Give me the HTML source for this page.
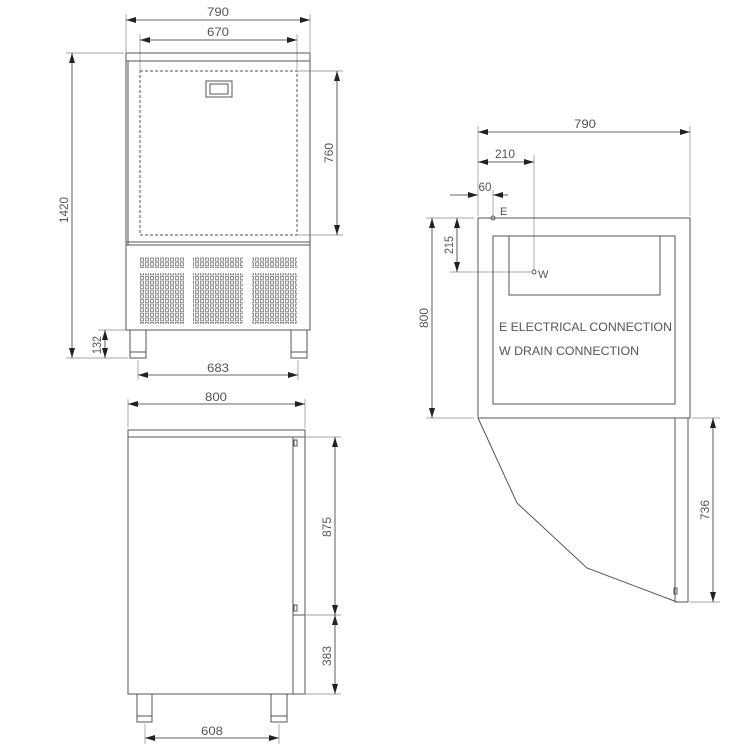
<!DOCTYPE html>
<html><head><meta charset="utf-8"><style>html,body{margin:0;padding:0;background:#fff}svg{display:block}</style></head>
<body>
<svg width="750" height="750" viewBox="0 0 750 750" xmlns="http://www.w3.org/2000/svg" font-family="'Liberation Sans', sans-serif" fill="none" stroke="#555" stroke-width="1">
<defs>
<marker id="a" viewBox="0 0 10 6" refX="10" refY="3" markerWidth="10" markerHeight="6" markerUnits="userSpaceOnUse" orient="auto-start-reverse"><path d="M0,0 L10,3 L0,6 Z" fill="#222" stroke="none"/></marker>
<pattern id="v" width="5" height="4.6" patternUnits="userSpaceOnUse"><rect x="0.5" y="0.5" width="3" height="3" stroke="#777" stroke-width="0.8" fill="none"/></pattern>
</defs>
<g stroke="#888" stroke-width="0.7">
<!-- front extension lines -->
<line x1="126" y1="14" x2="126" y2="52"/><line x1="310" y1="14" x2="310" y2="52"/>
<line x1="140" y1="34" x2="140" y2="70"/><line x1="297" y1="34" x2="297" y2="70"/>
<line x1="66" y1="53" x2="124" y2="53"/><line x1="66" y1="358" x2="128" y2="358"/>
<line x1="298" y1="71" x2="343" y2="71"/><line x1="298" y1="235" x2="343" y2="235"/>
<line x1="98" y1="330" x2="128" y2="330"/>
<line x1="138" y1="360" x2="138" y2="380"/><line x1="298" y1="360" x2="298" y2="380"/>
<!-- side -->
<line x1="128" y1="399" x2="128" y2="428"/><line x1="305" y1="399" x2="305" y2="428"/>
<line x1="306" y1="437" x2="341" y2="437"/><line x1="306" y1="615" x2="341" y2="615"/><line x1="306" y1="694" x2="341" y2="694"/>
<line x1="145" y1="724" x2="145" y2="744"/><line x1="279" y1="724" x2="279" y2="744"/>
<!-- top -->
<line x1="478" y1="126" x2="478" y2="216"/><line x1="690" y1="126" x2="690" y2="216"/>
<line x1="534" y1="155" x2="534" y2="270"/><line x1="493" y1="190" x2="493" y2="216"/>
<line x1="426" y1="218" x2="474" y2="218"/><line x1="426" y1="418" x2="474" y2="418"/>
<line x1="450" y1="272" x2="531" y2="272"/>
<line x1="692" y1="418" x2="720" y2="418"/><line x1="690" y1="602" x2="720" y2="602"/>
</g>
<g stroke="#333" stroke-width="0.8">
<line x1="126" y1="20" x2="310" y2="20" marker-start="url(#a)" marker-end="url(#a)"/>
<line x1="140" y1="40" x2="297" y2="40" marker-start="url(#a)" marker-end="url(#a)"/>
<line x1="72" y1="53" x2="72" y2="358" marker-start="url(#a)" marker-end="url(#a)"/>
<line x1="337" y1="71" x2="337" y2="235" marker-start="url(#a)" marker-end="url(#a)"/>
<line x1="105" y1="330" x2="105" y2="358" marker-start="url(#a)" marker-end="url(#a)"/>
<line x1="138" y1="375" x2="298" y2="375" marker-start="url(#a)" marker-end="url(#a)"/>
<line x1="128" y1="404" x2="305" y2="404" marker-start="url(#a)" marker-end="url(#a)"/>
<line x1="335" y1="437" x2="335" y2="615" marker-start="url(#a)" marker-end="url(#a)"/>
<line x1="335" y1="615" x2="335" y2="694" marker-start="url(#a)" marker-end="url(#a)"/>
<line x1="145" y1="738" x2="279" y2="738" marker-start="url(#a)" marker-end="url(#a)"/>
<line x1="478" y1="132" x2="690" y2="132" marker-start="url(#a)" marker-end="url(#a)"/>
<line x1="478" y1="162" x2="534" y2="162" marker-start="url(#a)" marker-end="url(#a)"/>
<line x1="450" y1="195" x2="478" y2="195" marker-end="url(#a)"/>
<line x1="508" y1="195" x2="493" y2="195" marker-end="url(#a)"/>
<line x1="432" y1="218" x2="432" y2="418" marker-start="url(#a)" marker-end="url(#a)"/>
<line x1="457" y1="218" x2="457" y2="272" marker-start="url(#a)" marker-end="url(#a)"/>
<line x1="713" y1="418" x2="713" y2="602" marker-start="url(#a)" marker-end="url(#a)"/>
</g>
<!-- front view -->
<g stroke="#555">
<rect x="126" y="53" width="184" height="277"/>
<line x1="126" y1="61" x2="310" y2="61"/>
<line x1="126" y1="245" x2="310" y2="245"/>
<line x1="128" y1="61" x2="128" y2="245"/>
<line x1="126" y1="242" x2="310" y2="242"/>
<rect x="140" y="71" width="157" height="164" stroke-dasharray="3,2"/>
<rect x="206" y="81" width="26" height="16"/>
<rect x="210" y="84" width="18" height="10"/>
<rect x="130" y="330" width="16" height="28"/><rect x="291" y="330" width="16" height="28"/>
<line x1="130" y1="352" x2="146" y2="352"/><line x1="291" y1="352" x2="307" y2="352"/>
</g>
<g stroke="none">
<rect x="139" y="257" width="45" height="11" fill="url(#v)"/>
<rect x="193" y="257" width="50" height="11" fill="url(#v)"/>
<rect x="252" y="257" width="45" height="11" fill="url(#v)"/>
<rect x="139" y="273" width="45" height="51" fill="url(#v)"/>
<rect x="193" y="273" width="50" height="51" fill="url(#v)"/>
<rect x="252" y="273" width="45" height="51" fill="url(#v)"/>
</g>
<!-- side view -->
<g stroke="#555">
<rect x="128" y="430" width="177" height="264"/>
<line x1="128" y1="437" x2="305" y2="437"/>
<line x1="293" y1="437" x2="293" y2="694"/>
<line x1="293" y1="615" x2="305" y2="615"/>
<rect x="294" y="440" width="3" height="6"/><rect x="294" y="605" width="3" height="6"/>
<rect x="137" y="694" width="15" height="28"/><rect x="271" y="694" width="16" height="28"/>
<line x1="137" y1="716" x2="152" y2="716"/><line x1="271" y1="716" x2="287" y2="716"/>
</g>
<!-- top view -->
<g stroke="#555">
<rect x="478" y="218" width="212" height="200"/>
<rect x="493" y="236" width="182" height="168"/>
<polyline points="509,236 509,295 660,295 660,236"/>
<circle cx="493" cy="218" r="2"/>
<circle cx="534" cy="272" r="2"/>
<polyline points="478,418 517,503 587,568 677,602"/>
<rect x="675" y="418" width="13" height="184"/>
<rect x="674" y="588" width="3" height="6"/>
</g>
<g fill="#555" stroke="none" font-size="12">
<text x="218" y="16" text-anchor="middle" textLength="22" lengthAdjust="spacingAndGlyphs">790</text>
<text x="218" y="36" text-anchor="middle" textLength="22" lengthAdjust="spacingAndGlyphs">670</text>
<text x="218" y="372" text-anchor="middle" textLength="22" lengthAdjust="spacingAndGlyphs">683</text>
<text x="216" y="401" text-anchor="middle" textLength="22" lengthAdjust="spacingAndGlyphs">800</text>
<text x="212" y="735" text-anchor="middle" textLength="22" lengthAdjust="spacingAndGlyphs">608</text>
<text x="585" y="128" text-anchor="middle" textLength="22" lengthAdjust="spacingAndGlyphs">790</text>
<text x="505" y="158" text-anchor="middle" textLength="20" lengthAdjust="spacingAndGlyphs">210</text>
<text x="485" y="191" text-anchor="middle" textLength="13" lengthAdjust="spacingAndGlyphs">60</text>
<text x="500" y="215" font-size="11">E</text>
<text x="538" y="278" font-size="11">W</text>
<text transform="translate(68,210) rotate(-90)" text-anchor="middle" textLength="26" lengthAdjust="spacingAndGlyphs">1420</text>
<text transform="translate(333,153) rotate(-90)" text-anchor="middle" textLength="20" lengthAdjust="spacingAndGlyphs">760</text>
<text transform="translate(101,345) rotate(-90)" text-anchor="middle" textLength="18" lengthAdjust="spacingAndGlyphs">132</text>
<text transform="translate(331,527) rotate(-90)" text-anchor="middle" textLength="20" lengthAdjust="spacingAndGlyphs">875</text>
<text transform="translate(331,656) rotate(-90)" text-anchor="middle" textLength="20" lengthAdjust="spacingAndGlyphs">383</text>
<text transform="translate(428,318) rotate(-90)" text-anchor="middle" textLength="20" lengthAdjust="spacingAndGlyphs">800</text>
<text transform="translate(453,245) rotate(-90)" text-anchor="middle" textLength="18" lengthAdjust="spacingAndGlyphs">215</text>
<text transform="translate(709,510) rotate(-90)" text-anchor="middle" textLength="20" lengthAdjust="spacingAndGlyphs">736</text>
<text x="499" y="331" textLength="173" lengthAdjust="spacingAndGlyphs">E  ELECTRICAL CONNECTION</text>
<text x="499" y="355" textLength="140" lengthAdjust="spacingAndGlyphs">W  DRAIN CONNECTION</text>
</g>
</svg>
</body></html>
